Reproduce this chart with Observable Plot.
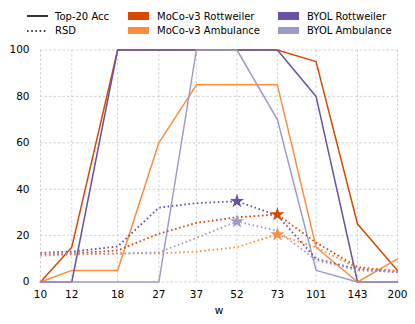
<!DOCTYPE html>
<html><head><meta charset="utf-8">
<script src="https://cdn.jsdelivr.net/npm/d3@7"></script>
<script src="https://cdn.jsdelivr.net/npm/@observablehq/plot@0.6"></script>
<style>
body{margin:0;background:#fff;font-family:"DejaVu Sans",sans-serif;}
#legend{position:relative;width:415px;height:40px;font-size:10px;color:#000;}
.item{position:absolute;display:flex;align-items:center;white-space:nowrap;height:12px;}
.sw{width:21px;height:7.5px;margin-right:8px;}
</style>
</head><body>
<div id="legend"></div>
<div id="chart"></div>
<script>
// x positions (as drawn on the log axis) and their printed labels
const wPos = [10, 13, 19.1, 27, 37, 52, 73, 101, 143, 200];
const wLabels = ["10", "12", "18", "27", "37", "52", "73", "101", "143", "200"];

const seriesNames = ["MoCo-v3 Rottweiler", "MoCo-v3 Ambulance", "BYOL Rottweiler", "BYOL Ambulance"];
const seriesColors = ["#d94801", "#fd8d3c", "#6a51a3", "#9e9ac8"];
const yTicks = [0, 20, 40, 60, 80, 100];

// Top-20 Acc (solid)
const accMocoRot = [0, 15, 100, 100, 100, 100, 100, 95, 25, 5];
const accMocoAmb = [0, 5, 5, 60, 85, 85, 85, 15, 0, 10];
const accByolRot = [0, 0, 100, 100, 100, 100, 100, 80, 0, 0];
const accByolAmb = [0, 0, 0, 0, 100, 100, 70, 5, 0, 0];

// RSD (dotted)
const rsdMocoRot = [11.8, 12.3, 13.6, 20.8, 25.5, 27.9, 29.1, 17, 6.4, 4.7];
const rsdMocoAmb = [11.3, 11.8, 12.3, 12.3, 13.1, 15, 20.5, 15, 6, 4.8];
const rsdByolRot = [12.6, 13.1, 15.3, 32, 34, 34.8, 28.7, 10, 5.5, 4.2];
const rsdByolAmb = [12.2, 12.2, 12.2, 12.8, 19, 26.1, 22, 9.5, 5, 4.3];

const accAll = [accMocoRot, accMocoAmb, accByolRot, accByolAmb];
const rsdAll = [rsdMocoRot, rsdMocoAmb, rsdByolRot, rsdByolAmb];

const labelOf = new Map(wPos.map((w, i) => [w, wLabels[i]]));

const accRows = [], rsdRows = [], peakRows = [];
seriesNames.forEach((s, i) => {
  wPos.forEach((w, j) => {
    accRows.push({series: s, w, value: accAll[i][j]});
    rsdRows.push({series: s, w, value: rsdAll[i][j]});
  });
  const k = d3.maxIndex(rsdAll[i]);
  peakRows.push({series: s, w: wPos[k], value: rsdAll[i][k]});
});

// Legend (HTML, above the SVG)
const legend = document.getElementById("legend");
function addItem(left, cy, swatch, label) {
  const el = document.createElement("div");
  el.className = "item";
  el.style.left = left + "px";
  el.style.top = (cy - 6) + "px";
  el.appendChild(swatch);
  const t = document.createElement("span");
  t.textContent = label;
  el.appendChild(t);
  legend.appendChild(el);
}
function lineSwatch(dash) {
  const ns = "http://www.w3.org/2000/svg";
  const s = document.createElementNS(ns, "svg");
  s.setAttribute("width", 21); s.setAttribute("height", 12);
  s.style.marginRight = "7px";
  const l = document.createElementNS(ns, "line");
  l.setAttribute("x1", 0); l.setAttribute("x2", 21);
  l.setAttribute("y1", 6); l.setAttribute("y2", 6);
  l.setAttribute("stroke", "#000"); l.setAttribute("stroke-width", 1.6);
  if (dash) l.setAttribute("stroke-dasharray", dash);
  s.appendChild(l);
  return s;
}
function rectSwatch(color) {
  const d = document.createElement("div");
  d.className = "sw";
  d.style.background = color;
  return d;
}
addItem(27, 16, lineSwatch(null), "Top-20 Acc");
addItem(27, 30.5, lineSwatch("1.6,2.6"), "RSD");
addItem(128, 16, rectSwatch(seriesColors[0]), seriesNames[0]);
addItem(128, 30.5, rectSwatch(seriesColors[1]), seriesNames[1]);
addItem(278, 16, rectSwatch(seriesColors[2]), seriesNames[2]);
addItem(278, 30.5, rectSwatch(seriesColors[3]), seriesNames[3]);

const chart = Plot.plot({
  width: 415,
  height: 284,
  marginTop: 9.5,
  marginBottom: 42.5,
  marginLeft: 40,
  marginRight: 18,
  style: {fontFamily: "DejaVu Sans, sans-serif", fontSize: "10.5px", color: "#000", background: "#fff"},
  x: {type: "log", domain: [10, 200], ticks: wPos, tickFormat: d => labelOf.get(d) ?? ""},
  y: {domain: [0, 100], ticks: yTicks},
  color: {domain: seriesNames, range: seriesColors},
  marks: [
    Plot.gridX({ticks: wPos, stroke: "#c8c8c8", strokeOpacity: 1, strokeDasharray: "2.5,2", strokeWidth: 0.8}),
    Plot.gridY({ticks: yTicks, stroke: "#c8c8c8", strokeOpacity: 1, strokeDasharray: "2.5,2", strokeWidth: 0.8}),
    Plot.axisX({ticks: wPos, tickSize: 0, tickPadding: 8.5, tickFormat: d => labelOf.get(d) ?? "", label: "w", labelAnchor: "center", labelOffset: 32, labelArrow: "none"}),
    Plot.axisY({ticks: yTicks, tickSize: 0, tickPadding: 11, label: null}),
    Plot.line(accRows, {x: "w", y: "value", z: "series", stroke: "series", strokeWidth: 1.5}),
    Plot.line(rsdRows, {x: "w", y: "value", z: "series", stroke: "series", strokeWidth: 1.8, strokeDasharray: "1.6,2.6", strokeLinecap: "butt"}),
    Plot.dot(peakRows, {x: "w", y: "value", fill: "series", stroke: "series", symbol: "star", r: 3})
  ]
});
document.getElementById("chart").appendChild(chart);
</script>
</body></html>
